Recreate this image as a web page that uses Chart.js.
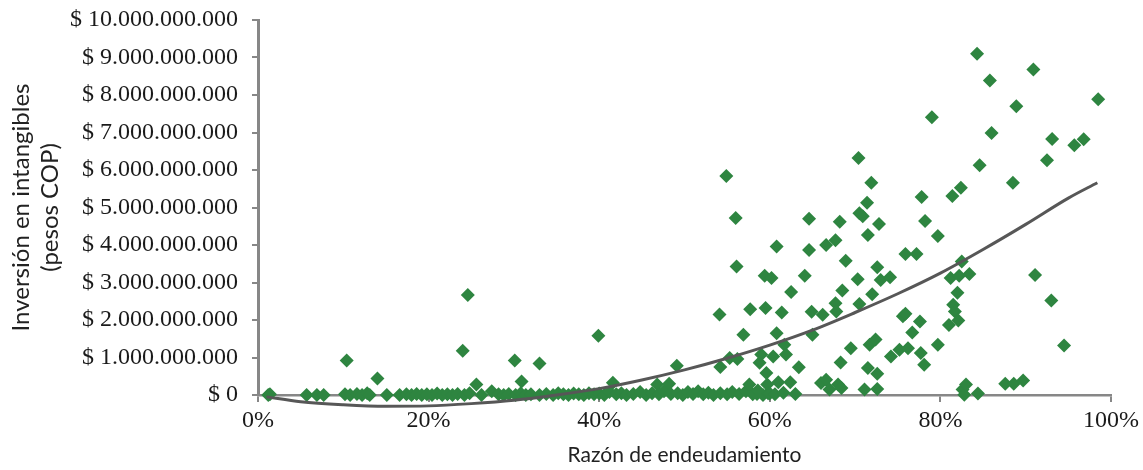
<!DOCTYPE html>
<html lang="es">
<head>
<meta charset="utf-8">
<script src="https://cdn.jsdelivr.net/npm/chart.js@4.4.1/dist/chart.umd.min.js"></script>
<style>
  html, body { margin: 0; padding: 0; background: #fff; }
</style>
</head>
<body>
<canvas id="chart" width="1143" height="470"></canvas>
<script>
"use strict";
// razón de endeudamiento (%) de cada empresa
let debtRatio = [
  1.2, 1.4, 5.7, 6.9, 7.7, 10.2, 10.4, 10.8, 11.6, 12.2, 12.8, 13.1, 14.0, 15.1, 16.6,
  17.4, 18.0, 18.6, 19.2, 19.8, 20.4, 21.0, 21.6, 22.2, 22.8, 23.4, 24.0, 24.2, 24.6, 24.8,
  25.6, 26.2, 27.4, 28.2, 28.8, 29.4, 30.1, 30.2, 30.8, 30.9, 31.4, 32.0, 33.0, 33.0, 33.8,
  34.6, 35.2, 35.8, 36.4, 37.0, 37.6, 38.2, 38.8, 39.4, 39.9, 40.0, 40.6, 41.2, 41.6, 42.0,
  42.6, 43.2, 44.0, 44.8, 45.5, 46.2, 46.8, 47.0, 47.6, 48.2, 48.4, 49.1, 49.2, 49.8, 50.4,
  51.0, 51.6, 52.2, 52.8, 53.4, 54.2, 54.1, 54.2, 54.9, 55.0, 55.3, 55.6, 56.0, 56.1, 56.2,
  56.4, 56.9, 57.2, 57.6, 57.7, 58.0, 58.5, 58.6, 58.8, 59.0, 59.2, 59.4, 59.5, 59.6, 59.7,
  59.8, 60.0, 60.2, 60.4, 60.6, 60.8, 60.8, 61.0, 61.4, 61.6, 61.7, 61.9, 62.4, 62.5, 63.0,
  63.4, 64.1, 64.6, 64.6, 64.9, 65.0, 66.0, 66.2, 66.6, 66.6, 67.0, 67.7, 67.7, 67.8, 68.0,
  68.3, 68.4, 68.2, 68.5, 68.9, 69.5, 70.4, 70.3, 70.5, 70.5, 70.9, 71.1, 71.4, 71.5, 71.5,
  71.7, 71.9, 72.0, 72.4, 72.6, 72.6, 72.6, 72.8, 73.0, 74.2, 74.1, 75.2, 75.6, 75.9, 75.9,
  76.2, 76.7, 77.2, 77.6, 77.7, 77.8, 78.1, 78.2, 79.0, 79.7, 79.7, 81.0, 81.2, 81.4, 81.5,
  81.7, 82.0, 82.1, 82.2, 82.4, 82.5, 82.6, 82.8, 83.0, 83.4, 84.3, 84.4, 84.6, 85.8, 86.0,
  87.6, 88.6, 88.5, 88.9, 89.7, 90.9, 91.1, 92.5, 93.0, 93.1, 94.5, 95.7, 96.8, 98.5
];
// inversión en intangibles (miles de millones de pesos)
let intangibles = [
  0.00, 0.02, 0.00, 0.00, 0.00, 0.02, 0.92, 0.00, 0.03, 0.00, 0.05, 0.00, 0.44, 0.00, 0.00,
  0.02, 0.00, 0.03, 0.00, 0.02, 0.00, 0.04, 0.00, 0.02, 0.00, 0.03, 1.18, 0.00, 2.67, 0.05,
  0.28, 0.00, 0.10, 0.02, 0.00, 0.03, 0.92, 0.00, 0.05, 0.36, 0.00, 0.02, 0.84, 0.00, 0.03,
  0.00, 0.05, 0.02, 0.00, 0.04, 0.02, 0.00, 0.05, 0.02, 1.58, 0.04, 0.00, 0.08, 0.33, 0.02,
  0.05, 0.00, 0.03, 0.08, 0.00, 0.05, 0.28, 0.02, 0.10, 0.30, 0.03, 0.78, 0.05, 0.00, 0.08,
  0.03, 0.10, 0.02, 0.06, 0.00, 0.75, 2.15, 0.05, 5.84, 0.02, 0.99, 0.08, 4.72, 3.43, 0.96,
  0.03, 1.61, 0.10, 0.28, 2.29, 0.02, 0.03, 0.12, 0.86, 1.08, 0.00, 3.18, 2.32, 0.59, 0.28,
  0.05, 0.04, 3.12, 1.03, 0.02, 3.96, 1.65, 0.34, 2.20, 0.06, 1.34, 1.08, 0.34, 2.75, 0.03,
  0.74, 3.18, 4.70, 3.87, 2.22, 1.61, 0.32, 2.14, 0.41, 4.00, 0.15, 4.13, 2.45, 2.23, 0.28,
  0.87, 0.19, 4.62, 2.79, 3.58, 1.25, 6.32, 3.09, 2.43, 4.85, 4.77, 0.15, 5.13, 0.72, 4.27,
  1.34, 5.66, 2.69, 1.48, 3.41, 0.57, 0.16, 4.56, 3.07, 1.03, 3.14, 1.21, 2.10, 2.17, 3.76,
  1.25, 1.67, 3.76, 1.96, 1.12, 5.28, 0.81, 4.64, 7.41, 4.24, 1.34, 1.87, 3.12, 5.31, 2.41,
  2.23, 2.73, 1.99, 3.18, 5.53, 3.56, 0.15, 0.01, 0.28, 3.23, 9.10, 0.04, 6.13, 8.39, 6.99,
  0.30, 0.30, 5.66, 7.70, 0.39, 8.68, 3.20, 6.26, 2.52, 6.83, 1.32, 6.66, 6.82, 7.89
];
// línea de tendencia
let trendX = [1, 5, 10, 15, 20, 25, 30, 35, 40, 45, 50, 55, 60, 65, 70, 75, 80, 85, 90, 95, 98.4];
let trendY = [-0.05, -0.18, -0.26, -0.30, -0.29, -0.23, -0.14, 0.00, 0.17, 0.40, 0.67, 0.98,
  1.33, 1.73, 2.20, 2.70, 3.25, 3.88, 4.55, 5.25, 5.66];

let xTicks = [0, 20, 40, 60, 80, 100];
let yMax = 10;

function toPoints(xs, ys) {
  let pts = [];
  for (let i = 0; i < xs.length; i++) {
    pts.push({ x: xs[i], y: ys[i] });
  }
  return pts;
}

function formatPesos(v) {
  let n = Math.round(v * 1e9).toString();
  return "$ " + n.replace(/\B(?=(\d{3})+(?!\d))/g, ".");
}

let axisGray = "#878787";
let tickFont = { family: "'Liberation Serif', 'Times New Roman', serif", size: 24 };

let ctx = document.getElementById("chart").getContext("2d");
let myChart = new Chart(ctx, {
  type: "scatter",
  data: {
    datasets: [
      {
        label: "Tendencia",
        data: toPoints(trendX, trendY),
        showLine: true,
        borderColor: "#575757",
        borderWidth: 3,
        pointRadius: 0,
        tension: 0.4,
        cubicInterpolationMode: "monotone",
        clip: false,
        order: 0,
      },
      {
        label: "Empresas",
        data: toPoints(debtRatio, intangibles),
        pointStyle: "rectRot",
        pointRadius: 7,
        backgroundColor: "#2e8540",
        borderColor: "#2e8540",
        borderWidth: 0,
        clip: false,
        order: 1,
      },
    ],
  },
  options: {
    responsive: false,
    animation: false,
    layout: { padding: { top: 20, right: 31, bottom: 0, left: 0 } },
    plugins: { legend: { display: false }, tooltip: { enabled: false } },
    scales: {
      x: {
        type: "linear",
        min: 0,
        max: 100,
        afterBuildTicks: function (scale) {
          scale.ticks = xTicks.map(function (v) { return { value: v }; });
        },
        afterFit: function (scale) { scale.height = 75; },
        ticks: {
          font: tickFont,
          color: "#1a1a1a",
          padding: 4,
          maxRotation: 0,
          callback: function (v) { return v + "%"; },
        },
        grid: { drawOnChartArea: false, drawTicks: true, tickLength: 7, color: axisGray, lineWidth: 2 },
        border: { color: axisGray, width: 2.5 },
        title: {
          display: true,
          text: "Razón de endeudamiento",
          font: { family: "Lato, 'Open Sans', sans-serif", size: 21 },
          color: "#222",
          padding: { top: 0, bottom: 2 },
        },
      },
      y: {
        min: 0,
        max: yMax,
        afterFit: function (scale) {
          scale.width = 258;
          scale.paddingTop = 0;
        },
        ticks: {
          stepSize: 1,
          font: tickFont,
          color: "#1a1a1a",
          padding: 14,
          callback: function (v) { return formatPesos(v); },
        },
        grid: { drawOnChartArea: false, drawTicks: true, tickLength: 6, color: axisGray, lineWidth: 2 },
        border: { color: axisGray, width: 3 },
        title: {
          display: true,
          text: ["Inversión en intangibles", "(pesos COP)"],
          font: { family: "Lato, 'Open Sans', sans-serif", size: 24, lineHeight: 1.21 },
          color: "#222",
          padding: { top: 7, bottom: 0 },
        },
      },
    },
  },
});
</script>
</body>
</html>
